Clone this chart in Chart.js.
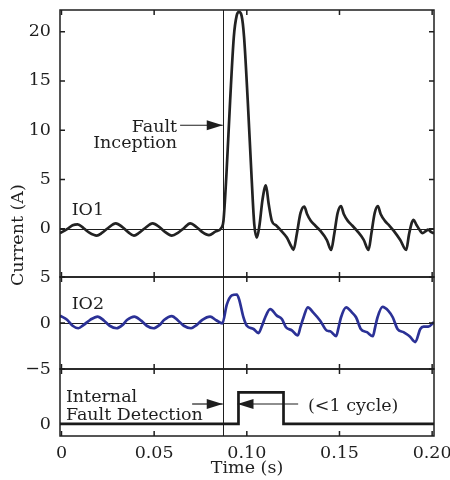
<!DOCTYPE html>
<html>
<head>
<meta charset="utf-8">
<script src="https://cdn.jsdelivr.net/npm/chart.js@4.4.1/dist/chart.umd.min.js"></script>
<style>
  html, body { margin: 0; background: #fff; }
  #wrap { width: 450px; height: 480px; }
</style>
</head>
<body>
<div id="wrap"><canvas id="faultChart"></canvas></div>
<script>
// time axis
const xMin = -0.0008, xMax = 0.201;
const xTicks = [0, 0.05, 0.10, 0.15, 0.20];
const xTickLabels = ['0', '0.05', '0.10', '0.15', '0.20'];
const faultTime = 0.087;

// IO1 current (A)
const io1Time = [-0.0008, 0.003, 0.006, 0.0087, 0.012, 0.015, 0.019, 0.022, 0.025, 0.0293,
  0.033, 0.036, 0.0391, 0.042, 0.045, 0.0492, 0.053, 0.056, 0.0595, 0.063,
  0.066, 0.0694, 0.073, 0.076, 0.0796, 0.083, 0.0865, 0.0874, 0.089, 0.091,
  0.093, 0.0945, 0.0958, 0.0972, 0.0985, 0.1005, 0.1025, 0.104, 0.1054, 0.1068,
  0.1085, 0.1103, 0.1118, 0.1135, 0.116, 0.1185, 0.1216, 0.124, 0.1252, 0.127,
  0.129, 0.131, 0.1325, 0.1345, 0.137, 0.1396, 0.1432, 0.1455, 0.1472, 0.149,
  0.1508, 0.1523, 0.1545, 0.157, 0.1594, 0.163, 0.1657, 0.1672, 0.169, 0.1707,
  0.1722, 0.1745, 0.177, 0.1792, 0.1828, 0.186, 0.1875, 0.189, 0.19, 0.1915,
  0.1935, 0.1948, 0.1965, 0.1978, 0.1995, 0.201];
const io1Values = [-0.45, -0.05, 0.35, 0.45, 0.05, -0.4, -0.7, -0.4, 0.05, 0.55,
  0.15, -0.35, -0.7, -0.4, 0.05, 0.55, 0.15, -0.35, -0.7, -0.4,
  0.05, 0.55, 0.15, -0.35, -0.65, -0.3, 0.15, 0.8, 5.5, 13.0,
  19.5, 21.6, 22.0, 21.6, 19.5, 13.0, 5.5, 0.5, -0.9, 0.3,
  3.0, 4.4, 2.5, 0.8, 0.3, -0.2, -0.9, -1.8, -2.15, -0.5,
  1.6, 2.25, 1.5, 0.8, 0.3, -0.2, -1.15, -2.15, -0.5, 1.6,
  2.3, 1.5, 0.8, 0.3, -0.2, -1.1, -2.15, -0.5, 1.6, 2.3,
  1.5, 0.8, 0.3, -0.2, -1.15, -2.15, -0.6, 0.6, 0.9, 0.4,
  -0.2, -0.45, -0.25, -0.1, -0.35, -0.45];

// IO2 current (A)
const io2Time = [-0.0008, 0.003, 0.006, 0.0091, 0.012, 0.0155, 0.0195, 0.023, 0.026, 0.0298,
  0.033, 0.0355, 0.0393, 0.043, 0.046, 0.0496, 0.053, 0.0555, 0.0595, 0.063,
  0.066, 0.0699, 0.073, 0.076, 0.0802, 0.0835, 0.0868, 0.0892, 0.0919, 0.0946,
  0.0958, 0.0982, 0.1, 0.1036, 0.1063, 0.1082, 0.1099, 0.1126, 0.1162, 0.1189,
  0.1211, 0.1243, 0.1275, 0.129, 0.1306, 0.1329, 0.136, 0.1396, 0.1432, 0.145,
  0.1482, 0.1495, 0.1508, 0.1536, 0.1567, 0.159, 0.1615, 0.1648, 0.168, 0.1692,
  0.1705, 0.1732, 0.1765, 0.1788, 0.1813, 0.1846, 0.1878, 0.1909, 0.1936, 0.1954,
  0.198, 0.201];
const io2Values = [0.8, 0.35, -0.3, -0.57, -0.2, 0.35, 0.7, 0.25, -0.3, -0.57,
  -0.2, 0.35, 0.7, 0.25, -0.3, -0.57, -0.2, 0.35, 0.75, 0.25,
  -0.3, -0.57, -0.2, 0.35, 0.7, 0.3, -0.05, 2.0, 3.0, 3.1,
  2.6, 0.6, -0.3, -0.65, -1.1, -0.3, 0.6, 1.5, 0.8, 0.43,
  -0.46, -0.8, -1.36, -0.4, 0.6, 1.7, 1.1, 0.25, -0.83, -0.9,
  -1.43, -0.5, 0.6, 1.7, 1.15, 0.6, -0.65, -1.0, -1.43, -0.5,
  0.6, 1.75, 1.3, 0.6, -0.65, -1.0, -1.43, -2.07, -0.65, -0.4,
  -0.4, 0.1];

// internal fault detection flag
const detTime = [-0.0008, 0.0955, 0.0955, 0.1198, 0.1198, 0.201];
const detValues = [0, 0, 1, 1, 0, 0];

const y1Ticks = [0, 5, 10, 15, 20];
const y2Ticks = [-5, 0, 5];
const y3Ticks = [0];

const FONT = '"DejaVu Serif", "Liberation Serif", serif';
const INK = '#1e1e1e';
const FS = 17.5;

const toPoints = (xs, ys) => xs.map((x, i) => ({ x: x, y: ys[i] }));
const fmt = v => (v < 0 ? '\u2212' + Math.abs(v) : String(v));

function arrow(ctx, x1, y, x2) {
    ctx.beginPath();
    ctx.moveTo(x1, y);
    ctx.lineTo(x2, y);
    ctx.stroke();
    const dir = x2 > x1 ? 1 : -1;
    ctx.beginPath();
    ctx.moveTo(x2, y);
    ctx.lineTo(x2 - dir * 16, y - 5);
    ctx.lineTo(x2 - dir * 16, y + 5);
    ctx.closePath();
    ctx.fill();
}

// panel frames, zero lines, inner ticks and labels
const framePlugin = {
    id: 'frame',
    beforeDatasetsDraw(chart) {
        const { ctx, chartArea: a, scales } = chart;
        ctx.save();
        ctx.strokeStyle = INK;
        ctx.lineWidth = 1;
        ['y1', 'y2'].forEach(id => {
            const y = Math.round(scales[id].getPixelForValue(0)) + 0.5;
            ctx.beginPath();
            ctx.moveTo(a.left, y);
            ctx.lineTo(a.right, y);
            ctx.stroke();
        });
        const fx = Math.round(scales.x.getPixelForValue(faultTime)) + 0.5;
        ctx.beginPath();
        ctx.moveTo(fx, a.top);
        ctx.lineTo(fx, a.bottom);
        ctx.stroke();
        ctx.restore();
    },
    afterDatasetsDraw(chart) {
        const { ctx, chartArea: a, scales } = chart;
        const x = scales.x;
        ctx.save();
        ctx.strokeStyle = INK;
        ctx.fillStyle = INK;
        ctx.lineWidth = 1.5;
        ['y1', 'y2', 'y3'].forEach(id => {
            const s = scales[id];
            ctx.strokeRect(a.left, s.top, a.right - a.left, s.bottom - s.top);
            ctx.beginPath();
            s.ticks.forEach(t => {
                const py = s.getPixelForValue(t.value);
                ctx.moveTo(a.left, py); ctx.lineTo(a.left + 5, py);
                ctx.moveTo(a.right, py); ctx.lineTo(a.right - 5, py);
            });
            x.ticks.forEach(t => {
                const px = x.getPixelForValue(t.value);
                ctx.moveTo(px, s.top); ctx.lineTo(px, s.top + 5);
                ctx.moveTo(px, s.bottom); ctx.lineTo(px, s.bottom - 5);
            });
            ctx.stroke();
        });

        ctx.lineWidth = 1.2;
        const y1 = scales.y1, y2 = scales.y2, y3 = scales.y3;
        const fx = x.getPixelForValue(faultTime);
        arrow(ctx, x.getPixelForValue(0.064), y1.getPixelForValue(10.5), fx);
        arrow(ctx, x.getPixelForValue(0.0705), y3.getPixelForValue(0.63), fx);
        arrow(ctx, x.getPixelForValue(0.1277), y3.getPixelForValue(0.63), x.getPixelForValue(0.0955) - 1);

        ctx.font = FS + 'px ' + FONT;
        ctx.textBaseline = 'alphabetic';
        ctx.textAlign = 'right';
        ctx.fillText('Fault', x.getPixelForValue(0.0624), y1.getPixelForValue(9.8));
        ctx.fillText('Inception', x.getPixelForValue(0.0624), y1.getPixelForValue(8.2));
        ctx.textAlign = 'left';
        ctx.fillText('IO1', x.getPixelForValue(0.0055), y1.getPixelForValue(1.39));
        ctx.fillText('IO2', x.getPixelForValue(0.0055), y2.getPixelForValue(1.5));
        ctx.fillText('Internal', x.getPixelForValue(0.0024), y3.getPixelForValue(0.70));
        ctx.fillText('Fault Detection', x.getPixelForValue(0.0024), y3.getPixelForValue(0.13));
        ctx.fillText('(<1 cycle)', x.getPixelForValue(0.133), y3.getPixelForValue(0.41));

        ctx.translate(18, y1.getPixelForValue(-0.65));
        ctx.rotate(-Math.PI / 2);
        ctx.textAlign = 'center';
        ctx.textBaseline = 'middle';
        ctx.fillText('Current (A)', 0, 0);
        ctx.restore();
    }
};

function panelAxis(min, max, weight, tickList) {
    return {
        type: 'linear',
        min: min,
        max: max,
        position: 'left',
        stack: 'panels',
        stackWeight: weight,
        grid: { display: false, drawTicks: false },
        border: { display: false },
        afterBuildTicks: s => { s.ticks = tickList.map(v => ({ value: v })); },
        afterFit: s => {
            s.width = 60;
            s.paddingTop = 0;
            s.paddingBottom = 0;
        },
        ticks: {
            callback: v => fmt(v),
            padding: 9,
            color: INK,
            font: { family: FONT, size: FS }
        }
    };
}

const ctx = document.getElementById('faultChart').getContext('2d');
new Chart(ctx, {
    type: 'line',
    data: {
        datasets: [{
            label: 'IO1',
            data: toPoints(io1Time, io1Values),
            yAxisID: 'y1',
            borderColor: '#222222',
            borderWidth: 2.7,
            pointRadius: 0,
            cubicInterpolationMode: 'monotone'
        }, {
            label: 'IO2',
            data: toPoints(io2Time, io2Values),
            yAxisID: 'y2',
            borderColor: '#2b3196',
            borderWidth: 2.7,
            pointRadius: 0,
            cubicInterpolationMode: 'monotone'
        }, {
            label: 'Internal Fault Detection',
            data: toPoints(detTime, detValues),
            yAxisID: 'y3',
            borderColor: '#1a1a1a',
            borderWidth: 2.7,
            pointRadius: 0,
            tension: 0
        }]
    },
    options: {
        responsive: true,
        maintainAspectRatio: false,
        animation: false,
        layout: { padding: { top: 10, right: 16, left: 0, bottom: 0 } },
        plugins: {
            legend: { display: false },
            tooltip: { enabled: false }
        },
        scales: {
            x: {
                type: 'linear',
                min: xMin,
                max: xMax,
                grid: { display: false, drawTicks: false },
                border: { display: false },
                afterBuildTicks: s => { s.ticks = xTicks.map(v => ({ value: v })); },
                afterFit: s => {
                    s.height = 44;
                    s.paddingLeft = 0;
                    s.paddingRight = 0;
                },
                ticks: {
                    callback: (v, i) => xTickLabels[i],
                    padding: 7,
                    maxRotation: 0,
                    autoSkip: false,
                    color: INK,
                    font: { family: FONT, size: FS }
                },
                title: {
                    display: true,
                    text: 'Time (s)',
                    color: INK,
                    padding: { top: 0, bottom: 1 },
                    font: { family: FONT, size: FS }
                }
            },
            y3: panelAxis(-0.38, 1.735, 67, y3Ticks),
            y2: panelAxis(-5, 5, 92, y2Ticks),
            y1: panelAxis(-4.9, 22.2, 267, y1Ticks)
        }
    },
    plugins: [framePlugin]
});
</script>
</body>
</html>
